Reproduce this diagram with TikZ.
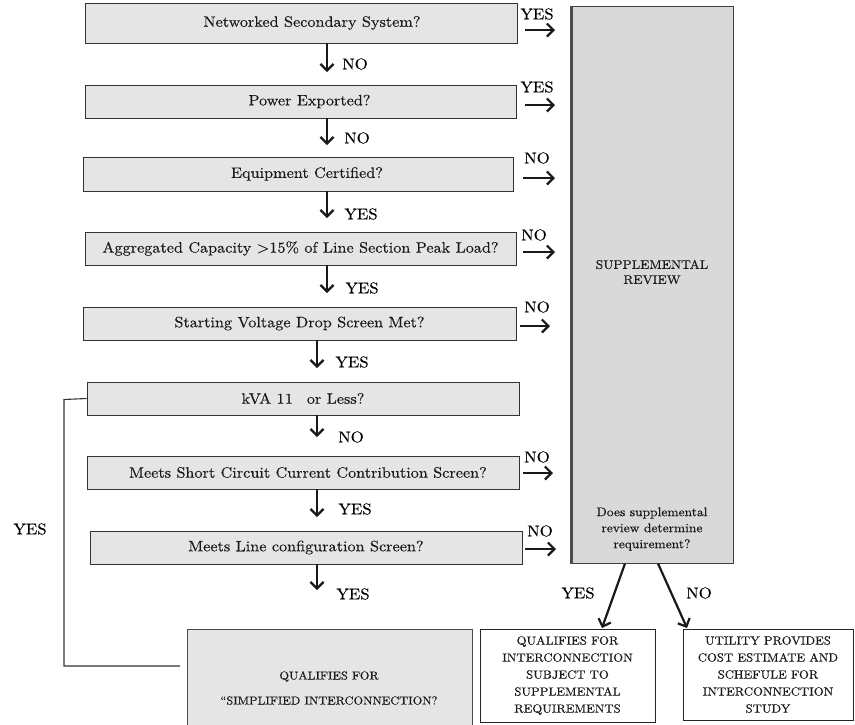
\documentclass[tikz,border=0pt]{standalone}
\usepackage{fontspec}
\setmainfont{lmroman10-regular.otf}[FakeStretch=1.08,FakeBold=0.25]
\usetikzlibrary{arrows.meta}
\begin{document}
\begin{tikzpicture}[x=1pt,y=-1pt,
  qbox/.style={draw=black!80,fill=black!10,line width=0.9pt,inner sep=0pt,
    font=\fontsize{15}{18}\selectfont,text=black!90},
  lbl/.style={inner sep=0pt,font=\fontsize{15.5}{17}\selectfont,text=black},
  arr/.style={draw=black!90,line width=2.2pt,-{Straight Barb[length=6.5pt,width=13pt]}},
  outbox/.style={draw=black!85,fill=white,line width=0.9pt,inner sep=0pt,align=center,
    font=\fontsize{11.8}{17}\selectfont,text=black!90},
  loopline/.style={draw=black!80,line width=1.1pt}]
\useasboundingbox (0,0) rectangle (855,724);

% decision boxes
\node[qbox,minimum width=432pt,minimum height=40pt] (b1) at (301,23) {\hspace*{22pt}Networked Secondary System?};
\node[qbox,minimum width=431pt,minimum height=33pt] (b2) at (300.5,101.5) {\hspace*{18pt}Power Exported?};
\node[qbox,minimum width=430pt,minimum height=34pt] (b3) at (298,174) {\hspace*{18pt}Equipment Certified?};
\node[qbox,minimum width=431pt,minimum height=33pt] (b4) at (300.5,248.5) {Aggregated Capacity >15\% of Line Section Peak Load?};
\node[qbox,minimum width=433pt,minimum height=33pt] (b5) at (299.5,323.5) {Starting Voltage Drop Screen Met?};
\node[qbox,minimum width=432pt,minimum height=33pt] (b6) at (303,398.5) {kVA 11\hspace{14pt}or Less?};
\node[qbox,minimum width=432pt,minimum height=33pt] (b7) at (303,472.5) {\hspace*{10pt}Meets Short Circuit Current Contribution Screen?};
\node[qbox,minimum width=432pt,minimum height=33pt] (b8) at (306,547.5) {Meets Line configuration Screen?};

% supplemental review box
\node[draw=black!75,fill=black!15,line width=1pt,minimum width=161pt,minimum height=557pt,inner sep=0pt] (sup) at (652.5,284.5) {};
\draw[black!70,line width=2.2pt] (sup.north west) -- (sup.south west);
\node[inner sep=0pt,align=center,font=\fontsize{12.5}{15}\selectfont,text=black!90] (supt) at (652,272) {SUPPLEMENTAL\\REVIEW};
\node[inner sep=0pt,align=center,font=\fontsize{12.5}{16}\selectfont,text=black!90] (supq) at (652,529) {Does supplemental\\review determine\\requirement?};

% bottom boxes
\node[draw=black!70,fill=black!10,line width=0.9pt,minimum width=285pt,minimum height=100pt,inner sep=0pt] (simp) at (329.5,679) {};
\node[inner sep=0pt,align=center,font=\fontsize{11.5}{25}\selectfont,text=black!90] (simpt) at (329,688) {QUALIFIES FOR\\``SIMPLIFIED INTERCONNECTION?};
\node[outbox,minimum width=175pt,minimum height=93pt] (q) at (567.5,675.5) {QUALIFIES FOR\\INTERCONNECTION\\SUBJECT TO\\SUPPLEMENTAL\\REQUIREMENTS};
\node[outbox,minimum width=170pt,minimum height=91pt] (u) at (768,674.5) {UTILITY PROVIDES\\COST ESTIMATE AND\\SCHEFULE FOR\\INTERCONNECTION\\STUDY};

% down arrows
\coordinate (d1) at (327,72);
\coordinate (d2) at (327,145);
\coordinate (d3) at (327,218);
\coordinate (d4) at (327,293);
\coordinate (d5) at (317,368);
\coordinate (d6) at (317,437);
\coordinate (d7) at (317,517);
\coordinate (d8) at (317,590);
\draw[arr] (b1.south -| d1) -- (d1);
\draw[arr] (b2.south -| d2) -- (d2);
\draw[arr] (b3.south -| d3) -- (d3);
\draw[arr] (b4.south -| d4) -- (d4);
\draw[arr] (b5.south -| d5) -- (d5);
\draw[arr] (b6.south -| d6) -- (d6);
\draw[arr] (b7.south -| d7) -- (d7);
\draw[arr] (b8.south -| d8) -- (d8);
\node[lbl] (n1) at (355,64) {NO};
\node[lbl] (n2) at (357,138) {NO};
\node[lbl] (n3) at (361,214) {YES};
\node[lbl] (n4) at (362,288) {YES};
\node[lbl] (n5) at (352,362) {YES};
\node[lbl] (n6) at (351,437) {NO};
\node[lbl] (n7) at (355,509) {YES};
\node[lbl] (n8) at (353,594) {YES};

% right arrows
\coordinate (r1s) at (525,30);  \coordinate (r1) at (555,30);
\coordinate (r2s) at (525,105); \coordinate (r2) at (555,105);
\coordinate (r3s) at (523,178); \coordinate (r3) at (555,178);
\coordinate (r4s) at (523,252); \coordinate (r4) at (555,252);
\coordinate (r5s) at (520,326); \coordinate (r5) at (550,326);
\coordinate (r7s) at (523,473); \coordinate (r7) at (553,473);
\coordinate (r8s) at (525,549); \coordinate (r8) at (556,549);
\foreach \i in {1,2,3,4,5,7,8} {\draw[arr] (r\i s) -- (r\i);}
\node[lbl] (y1) at (537,14) {YES};
\node[lbl] (y2) at (537,87) {YES};
\node[lbl] (y3) at (537,158) {NO};
\node[lbl] (y4) at (534,235) {NO};
\node[lbl] (y5) at (537,307) {NO};
\node[lbl] (y7) at (537,457) {NO};
\node[lbl] (y8) at (540,531) {NO};

% outcome arrows
\coordinate (o1) at (602,628);
\coordinate (o2) at (687,628);
\draw[arr] (sup.south -| 625,0) -- (o1);
\draw[arr] (sup.south -| 658,0) -- (o2);
\node[lbl] (oy) at (578,593) {YES};
\node[lbl] (on) at (699,593) {NO};

% YES loop
\coordinate (lend) at (180,666);
\draw[loopline] (b6.west) -- (64,399.5) -- (64,666) -- (lend);
\node[lbl] (ly) at (30,529) {YES};
\end{tikzpicture}
\end{document}
